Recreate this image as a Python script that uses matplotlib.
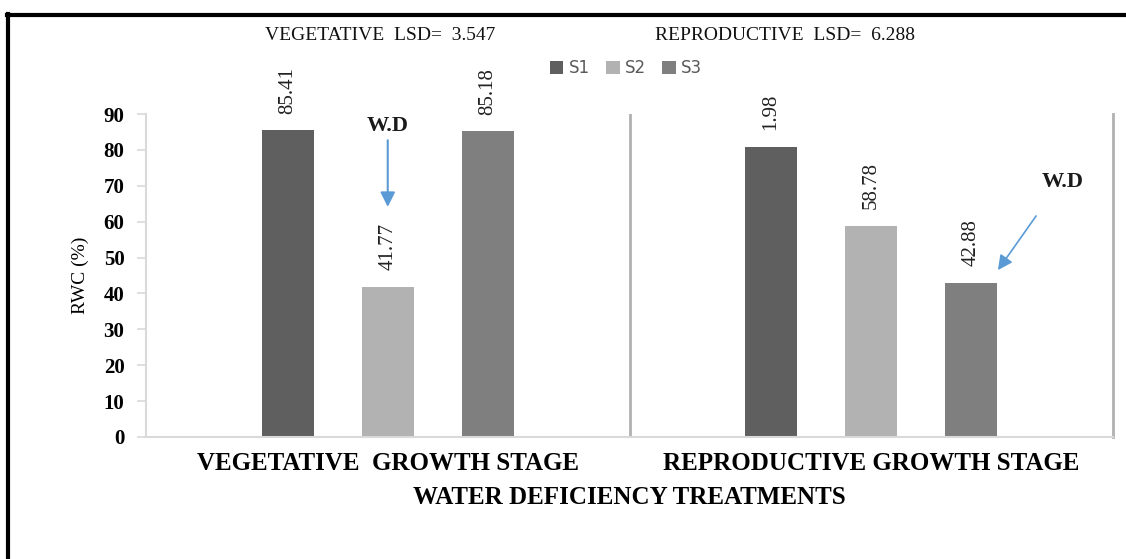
import matplotlib
matplotlib.use("Agg")
import matplotlib.pyplot as plt
from matplotlib.lines import Line2D
import numpy as np

# data
stages = ["VEGETATIVE  GROWTH STAGE", "REPRODUCTIVE GROWTH STAGE"]
series = ["S1", "S2", "S3"]
s1_vals = [85.41, 80.9]
s2_vals = [41.77, 58.78]
s3_vals = [85.18, 42.88]
# value labels as printed on the chart
s1_labels = ["85.41", "1.98"]
s2_labels = ["41.77", "58.78"]
s3_labels = ["85.18", "42.88"]
y_ticks = [0, 10, 20, 30, 40, 50, 60, 70, 80, 90]

COLORS = {"S1": "#5f5f5f", "S2": "#b2b2b2", "S3": "#7f7f7f",
          "sep": "#b1b1b1", "axis": "#d9d9d9", "arrow": "#5b9bd5",
          "legend_text": "#595959"}
SERIF = "Liberation Serif"

fig = plt.figure(figsize=(11.26, 5.59), dpi=100, facecolor="white")
ax = fig.add_axes([146 / 1126, 1 - 437 / 559, (1113 - 146) / 1126, (437 - 114) / 559])

x = np.arange(len(stages))
offset = 0.207
width = 0.108
all_vals = [s1_vals, s2_vals, s3_vals]
all_labels = [s1_labels, s2_labels, s3_labels]
for i, name in enumerate(series):
    bars = ax.bar(x + (i - 1) * offset, all_vals[i], width, color=COLORS[name],
                  label=name, edgecolor="none", zorder=2)
    for b, txt in zip(bars, all_labels[i]):
        ax.annotate(txt, (b.get_x() + b.get_width() / 2, b.get_height()),
                    xytext=(0, 12), textcoords="offset points", rotation=90,
                    ha="center", va="bottom", fontsize=15, family=SERIF,
                    color="#222222", annotation_clip=False)

ax.set_xlim(-0.5, 1.5)
ax.set_ylim(0, 90)
ax.set_yticks(y_ticks)
ax.set_xticks(x)
ax.set_xticklabels(stages, family=SERIF, fontweight="bold", fontsize=18)
ax.tick_params(axis="x", length=0, pad=11)
ax.tick_params(axis="y", length=6.5, width=1.2, color=COLORS["axis"], pad=9)
for lbl in ax.get_yticklabels():
    lbl.set_family(SERIF)
    lbl.set_fontweight("bold")
    lbl.set_fontsize(15)

for side in ["top", "right"]:
    ax.spines[side].set_visible(False)
ax.spines["left"].set_color(COLORS["axis"])
ax.spines["left"].set_linewidth(1.5)
ax.spines["bottom"].set_color(COLORS["axis"])
ax.spines["bottom"].set_linewidth(1.5)

# group separators
ax.axvline(0.5, color=COLORS["sep"], lw=2, zorder=1)
ax.axvline(1.5, color=COLORS["sep"], lw=2, zorder=1, clip_on=False)

# water deficiency arrows
ax.annotate("", xy=(0, 64.1), xytext=(0, 82.7),
            arrowprops=dict(arrowstyle="-|>", color=COLORS["arrow"], lw=1.5,
                            mutation_scale=22, shrinkA=0, shrinkB=0))
ax.text(0, 86.6, "W.D", ha="center", va="center", fontsize=16, family=SERIF,
        fontweight="bold", color="#1a1a1a")
ax.annotate("", xy=(1.262, 46.5), xytext=(1.341, 61.6),
            arrowprops=dict(arrowstyle="-|>", color=COLORS["arrow"], lw=1.2,
                            mutation_scale=22, shrinkA=0, shrinkB=0))
ax.text(1.395, 71.0, "W.D", ha="center", va="center", fontsize=16, family=SERIF,
        fontweight="bold", color="#1a1a1a")

# legend
leg = ax.legend(loc="center", bbox_to_anchor=(626 / 1126, 1 - 68 / 559),
                bbox_transform=fig.transFigure, ncol=3, frameon=False,
                handlelength=0.8, handleheight=0.8, handletextpad=0.3,
                columnspacing=1.0, prop={"family": "DejaVu Sans", "size": 12})
for t in leg.get_texts():
    t.set_color(COLORS["legend_text"])

# LSD headers
fig.text(265 / 1126, 1 - 35 / 559, "VEGETATIVE  LSD=  3.547", family=SERIF,
         fontsize=14, va="center", ha="left", color="#111111")
fig.text(655 / 1126, 1 - 35 / 559, "REPRODUCTIVE  LSD=  6.288", family=SERIF,
         fontsize=14, va="center", ha="left", color="#111111")

# axis titles
fig.text(80 / 1126, 1 - 275 / 559, "RWC (%)", rotation=90, family=SERIF,
         fontsize=14, ha="center", va="center")
fig.text(629 / 1126, 1 - 497 / 559, "WATER DEFICIENCY TREATMENTS", family=SERIF,
         fontweight="bold", fontsize=18, ha="center", va="center")

# outer frame (top and left only)
fig.add_artist(Line2D([7 / 1126, 1.0], [1 - 15 / 559, 1 - 15 / 559],
                      transform=fig.transFigure, color="black", lw=3))
fig.add_artist(Line2D([8 / 1126, 8 / 1126], [1 - 14 / 559, 1 / 559],
                      transform=fig.transFigure, color="black", lw=3))

fig.savefig("out.png", dpi=100, facecolor="white")
